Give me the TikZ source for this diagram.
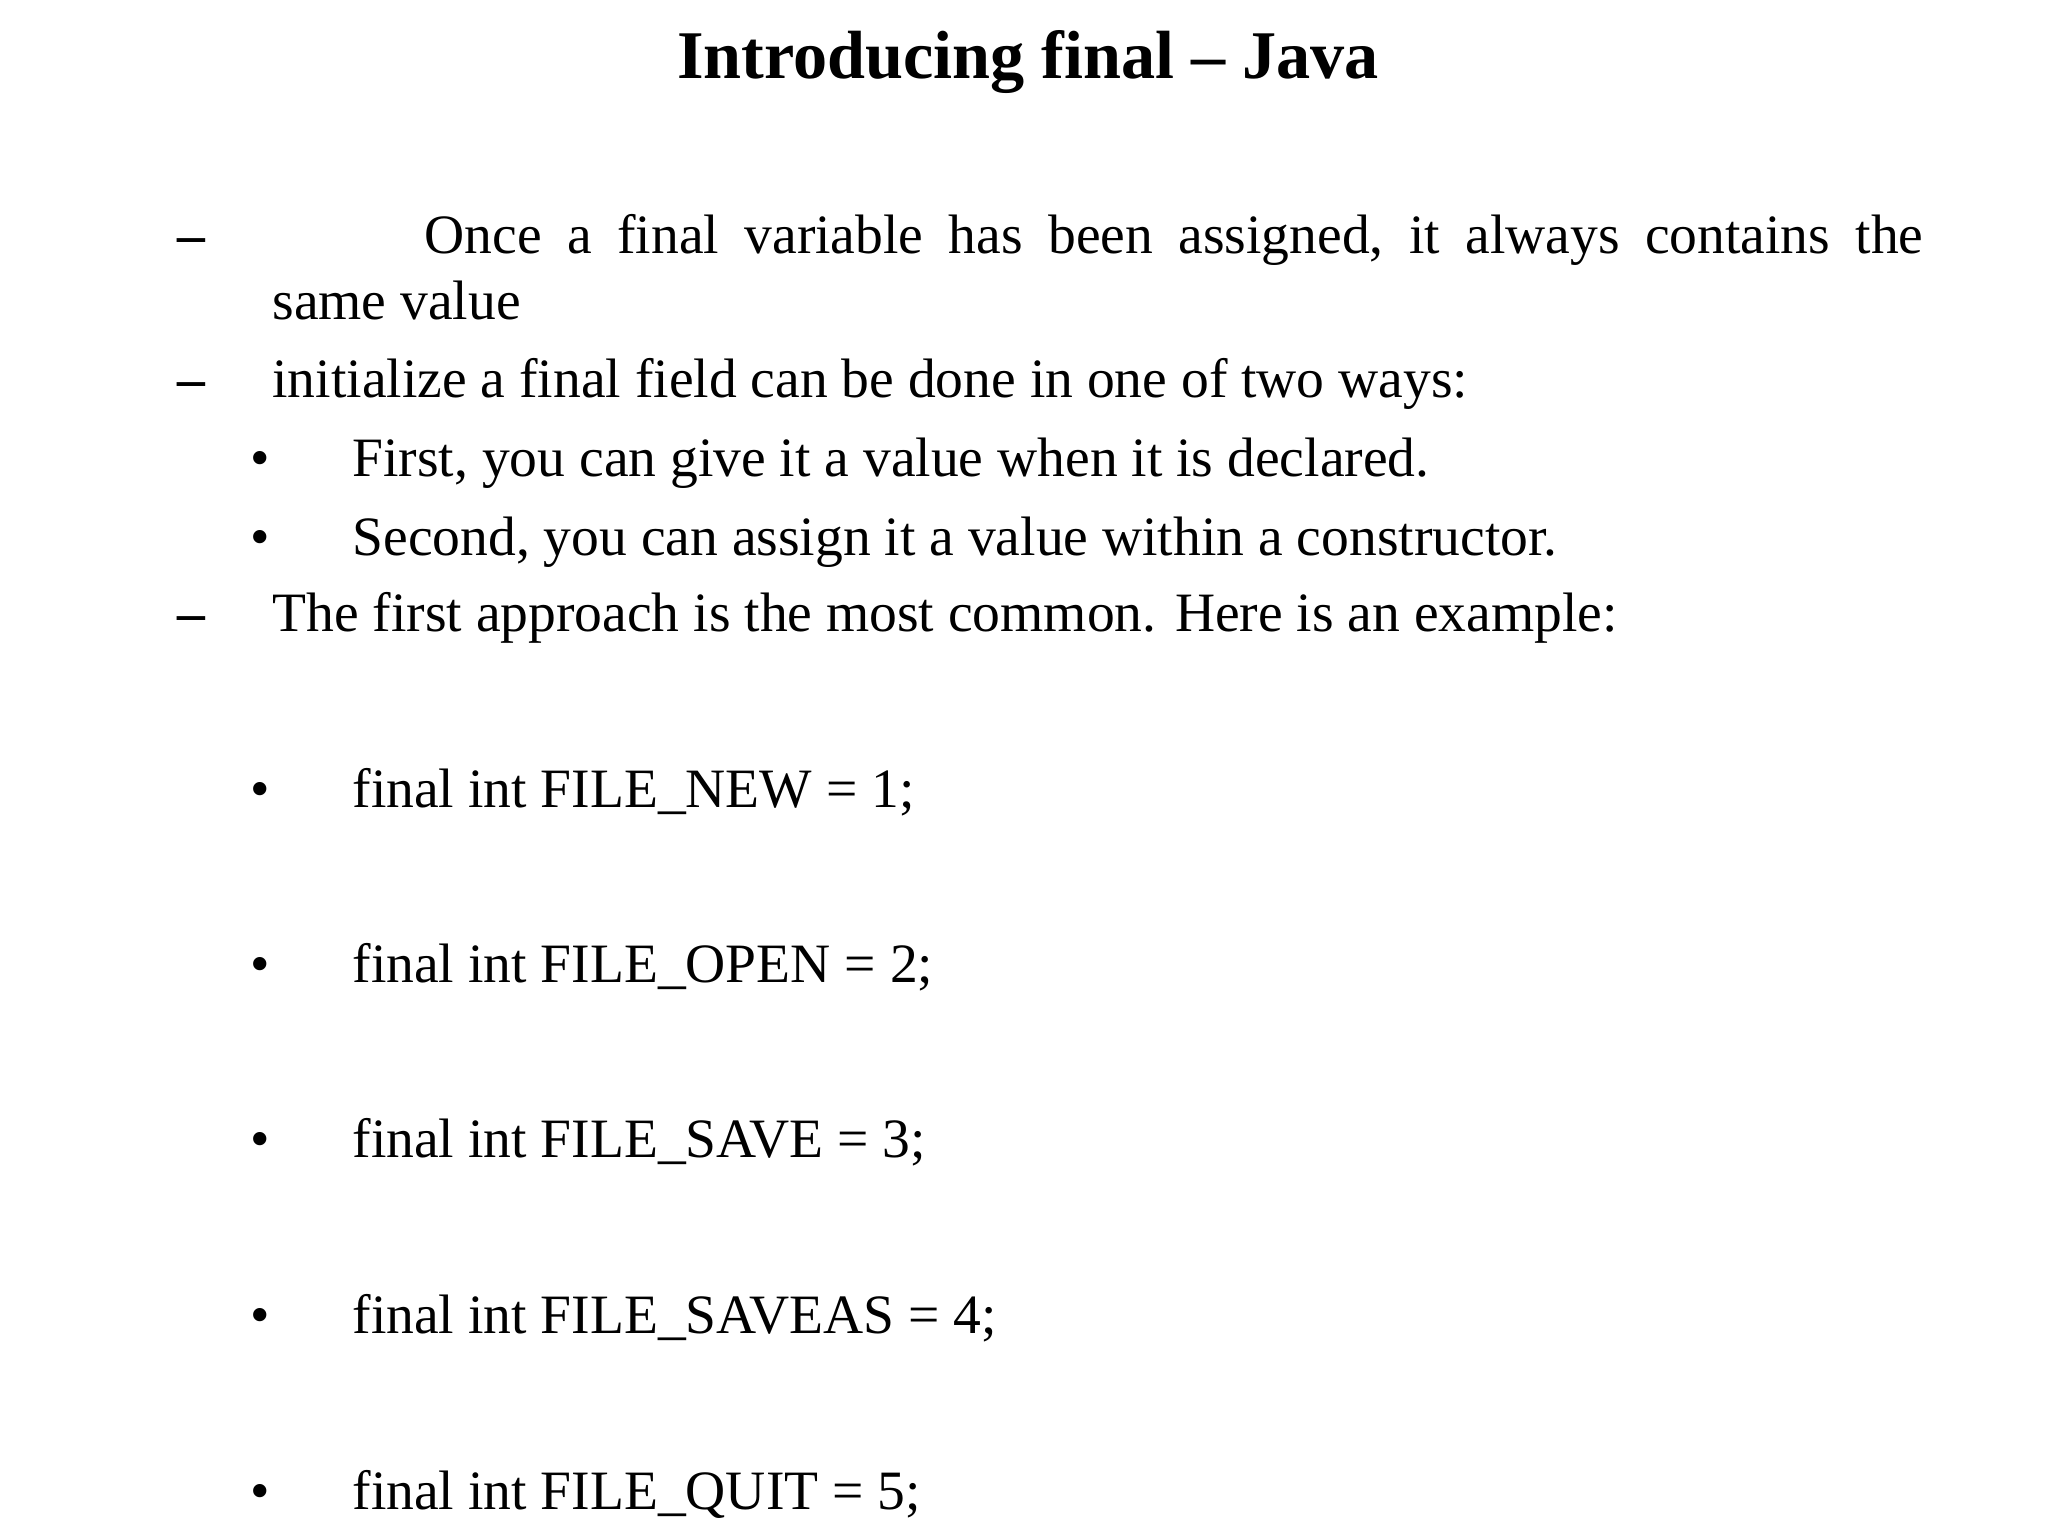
\documentclass[tikz,border=0pt]{standalone}
\usepackage{fontspec}
\setmainfont{Liberation Serif}
\begin{document}
\begin{tikzpicture}[x=0.013128cm,y=-0.013128cm,
  body/.style={anchor=base west,inner sep=0pt,font=\fontsize{15.8}{19}\selectfont},
  mk/.style={anchor=base west,inner sep=0pt,font=\fontsize{15.8}{19}\selectfont}]
\useasboundingbox (0,0) rectangle (1560,1170);
\node[anchor=base,inner sep=0pt,font=\fontsize{19.4}{23}\selectfont\bfseries] (title) at (783,60) {Introducing final – Java};
\node[mk] (d1) at (135,193) {\textbf{–}};
\node[body] (line1) at (323,193) {\makebox[14.98cm][s]{Once\hfill a\hfill final\hfill variable\hfill has\hfill been\hfill assigned,\hfill it\hfill always\hfill contains\hfill the}};
\node[body] (l2) at (207,243) {same value};
\node[mk] (d2) at (135,303) {\textbf{–}};
\node[body] (l3) at (207,303) {initialize a final field can be done in one of two ways:};
\node[mk] (b1) at (190,363) {\textbullet};
\node[body] (l4) at (268,363) {First, you can give it a value when it is declared.};
\node[mk] (b2) at (190,423) {\textbullet};
\node[body] (l5) at (268,423) {Second, you can assign it a value within a constructor.};
\node[mk] (d3) at (135,481) {\textbf{–}};
\node[body] (l6) at (207,481) {The first approach is the most common. Here is an example:};
\foreach \y/\t [count=\i] in {615/{final int FILE\_NEW = 1;},748/{final int FILE\_OPEN = 2;},882/{final int FILE\_SAVE = 3;},1016/{final int FILE\_SAVEAS = 4;},1150/{final int FILE\_QUIT = 5;}}{
  \node[mk] (cb\i) at (190,\y) {\textbullet};
  \node[body] (c\i) at (268,\y) {\t};
}
\end{tikzpicture}
\end{document}
